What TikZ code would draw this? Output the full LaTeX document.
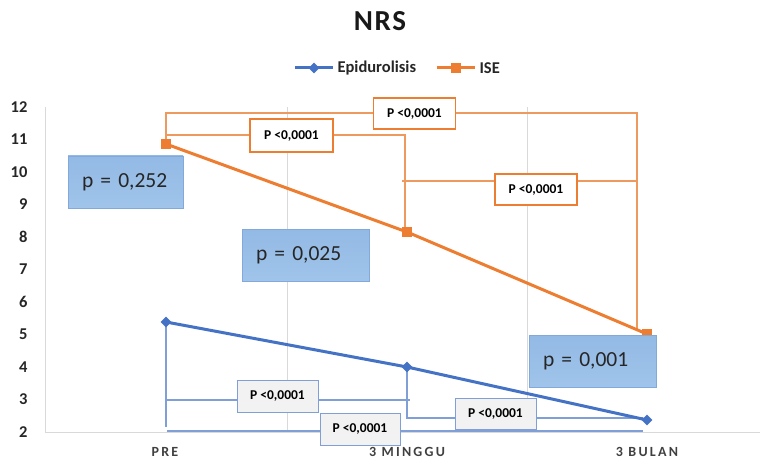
\documentclass[tikz,border=0pt]{standalone}
\usepackage{fontspec}
\setmainfont{Carlito}
\newfontfamily\spaced[LetterSpace=16]{Carlito}
\newfontfamily\titlefont[LetterSpace=6]{Carlito}
\usetikzlibrary{shapes.geometric}
\definecolor{cblue}{HTML}{4472C4}
\definecolor{corange}{HTML}{ED7D31}
\definecolor{cbrko}{HTML}{EE9A5E}
\definecolor{cgrid}{HTML}{D9D9D9}
\definecolor{bbrk}{HTML}{7F9FD6}
\definecolor{pfilltop}{HTML}{93BAE5}
\definecolor{pfillbot}{HTML}{A0C4EA}
\definecolor{pborder}{HTML}{82A9D9}
\definecolor{axtext}{HTML}{404040}
\begin{document}
\begin{tikzpicture}[x=1pt,y=-1pt,
  gridline/.style={draw=cgrid, line width=0.9pt},
  obrk/.style={draw=cbrko, line width=1.1pt},
  bbrkline/.style={draw=bbrk, line width=1.1pt},
  series/.style={line width=3pt},
  dmark/.style={diamond, fill=cblue, inner sep=0pt, minimum width=11pt, minimum height=11pt},
  smark/.style={rectangle, fill=corange, inner sep=0pt, minimum width=10pt, minimum height=10pt},
  obox/.style={draw=corange, line width=1.6pt, fill=white, inner sep=0pt,
    minimum width=82pt, minimum height=31pt, font=\bfseries\fontsize{13.5}{15}\selectfont},
  bbox/.style={draw=bbrk, line width=0.9pt, fill=black!5, inner sep=0pt,
    minimum width=81pt, minimum height=32pt, font=\bfseries\fontsize{13.5}{15}\selectfont},
  pbox/.style={draw=pborder, line width=0.8pt, top color=pfilltop, bottom color=pfillbot,
    inner xsep=14pt, inner ysep=0pt, align=left,
    minimum height=52pt, text=black!85, font=\fontsize{21.5}{24}\selectfont},
  ylab/.style={anchor=east, font=\bfseries\fontsize{16.5}{18}\selectfont, text=black!85},
  xlab/.style={font=\spaced\bfseries\fontsize{14}{16}\selectfont, text=axtext},
  legtext/.style={anchor=west, font=\bfseries\fontsize{16.5}{18}\selectfont, text=black!85}
]
\useasboundingbox (0,0) rectangle (760,465);

% title
\node[font=\titlefont\bfseries\fontsize{29}{32}\selectfont, text=black!90] (title) at (380,21) {NRS};

% legend
\coordinate (legEa) at (295,68); \coordinate (legEb) at (333,68);
\coordinate (legIa) at (437,68); \coordinate (legIb) at (475,68);
\draw[cblue, series] (legEa) -- (legEb);
\node[dmark] (legEm) at (314,68) {};
\node[legtext] (legEt) at (334,68) {Epidurolisis};
\draw[corange, series] (legIa) -- (legIb);
\node[smark] (legIm) at (456,68) {};
\node[legtext] (legIt) at (476,68) {ISE};

% axes and grid
\coordinate (axTL) at (45,107); \coordinate (axBL) at (45,432); \coordinate (axBR) at (760,432);
\coordinate (g1t) at (287,107); \coordinate (g1b) at (287,432);
\coordinate (g2t) at (527,107); \coordinate (g2b) at (527,432);
\draw[gridline] (g1t) -- (g1b);
\draw[gridline] (g2t) -- (g2b);
\draw[gridline] (axTL) -- (axBL) -- (axBR);

% y labels
\foreach \v in {2,...,12} {
  \node[ylab] (y\v) at (31,{432-(\v-2)*32.5}) {\v};
}
% x labels
\node[xlab] (xpre) at (165,452) {PRE};
\node[xlab] (xmin) at (407,452) {3 MINGGU};
\node[xlab] (xbul) at (647,452) {3 BULAN};

% data points
\coordinate (e1) at (166,322); \coordinate (e2) at (407,367); \coordinate (e3) at (647,420);
\coordinate (i1) at (166,144); \coordinate (i2) at (407,232); \coordinate (i3) at (647,334);

% orange brackets
\coordinate (tL) at (166,113); \coordinate (tR) at (637,113); \coordinate (tRb) at (637,330);
\coordinate (sL) at (166,135); \coordinate (sR) at (405,135); \coordinate (sRb) at (405,228);
\coordinate (thL) at (402,181); \coordinate (thR) at (637,181);
\draw[obrk] (i1) -- (tL) -- (tR) -- (tRb);
\draw[obrk] (sL) -- (sR) -- (sRb);
\draw[obrk] (thL) -- (thR);

% blue brackets
\coordinate (b1L) at (166,400); \coordinate (b1R) at (410,400); \coordinate (e1b) at (166,427);
\coordinate (b2L) at (167,431); \coordinate (b2R) at (643,431);
\coordinate (b3a) at (407,418); \coordinate (b3R) at (643,418);
\draw[bbrkline] (e1) -- (e1b);
\draw[bbrkline] (b1L) -- (b1R);
\draw[bbrkline] (b2L) -- (b2R);
\draw[bbrkline] (e2) -- (b3a) -- (b3R);

% series
\draw[cblue, series] (e1) -- (e2) -- (e3);
\draw[corange, series] (i1) -- (i2) -- (i3);
\node[dmark] (me1) at (e1) {};
\node[dmark] (me2) at (e2) {};
\node[dmark] (me3) at (e3) {};
\node[smark] (mi1) at (i1) {};
\node[smark] (mi2) at (i2) {};
\node[smark] (mi3) at (i3) {};

% orange p boxes
\node[obox] (o1) at (414.5,113.5) {P <0,0001};
\node[obox, minimum width=83pt, minimum height=33pt] (o2) at (291.5,135.5) {P <0,0001};
\node[obox] (o3) at (536,189.5) {P <0,0001};

% blue p boxes
\node[bbox] (bb1) at (277.5,396) {P <0,0001};
\node[bbox, minimum width=80pt] (bb2) at (360,429) {P <0,0001};
\node[bbox, minimum height=31pt] (bb3) at (495.5,413.5) {P <0,0001};

% group comparison boxes
\node[pbox, text width=87pt] (p1) at (125.5,182) {p = 0,252};
\node[pbox, text width=99pt] (p2) at (305.5,255) {p = 0,025};
\node[pbox, text width=99pt] (p3) at (592.5,361) {p = 0,001};
\end{tikzpicture}
\end{document}
